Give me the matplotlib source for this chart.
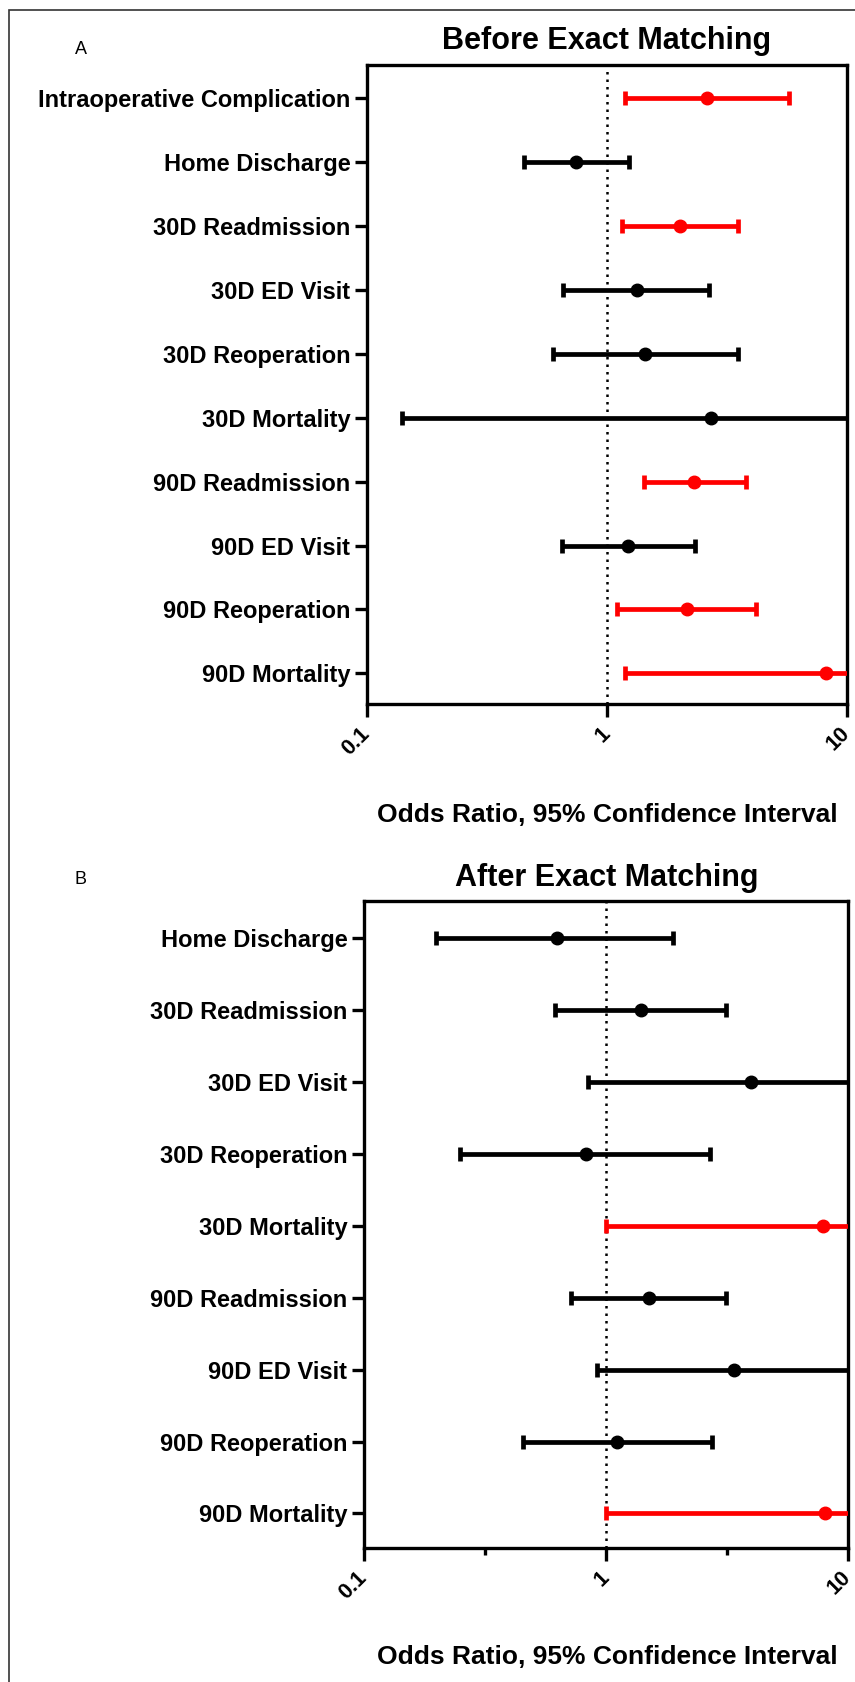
import matplotlib
matplotlib.use('Agg')
import matplotlib.pyplot as plt
from matplotlib.patches import Rectangle
from matplotlib.ticker import FixedLocator, NullFormatter

plt.rcParams['font.family'] = ['Liberation Sans', 'DejaVu Sans']

# Panel A: before exact matching
labels_a = ['Intraoperative Complication', 'Home Discharge', '30D Readmission',
            '30D ED Visit', '30D Reoperation', '30D Mortality', '90D Readmission',
            '90D ED Visit', '90D Reoperation', '90D Mortality']
or_a = [2.62, 0.745, 2.01, 1.33, 1.44, 2.71, 2.31, 1.22, 2.15, 8.2]
lo_a = [1.19, 0.449, 1.15, 0.657, 0.598, 0.140, 1.42, 0.647, 1.10, 1.19]
hi_a = [5.72, 1.24, 3.51, 2.67, 3.52, 52.0, 3.81, 2.32, 4.19, 56.0]
sig_a = [True, False, True, False, False, False, True, False, True, True]

# Panel B: after exact matching
labels_b = ['Home Discharge', '30D Readmission', '30D ED Visit', '30D Reoperation',
            '30D Mortality', '90D Readmission', '90D ED Visit', '90D Reoperation',
            '90D Mortality']
or_b = [0.628, 1.40, 3.98, 0.826, 7.92, 1.51, 3.37, 1.11, 8.04]
lo_b = [0.198, 0.618, 0.843, 0.249, 1.0, 0.72, 0.92, 0.452, 1.0]
hi_b = [1.90, 3.12, 18.8, 2.70, 62.0, 3.13, 12.3, 2.73, 64.0]
sig_b = [False, False, False, False, True, False, False, False, True]

W, H = 855, 1682
fig = plt.figure(figsize=(W / 100, H / 100), dpi=100)

# outer frame (cut off at right and bottom)
fig.add_artist(Rectangle((9 / W, -0.1), 2, 1 - 10 / H + 0.1, transform=fig.transFigure,
                         fill=False, lw=1.2, ec='#333333'))


def forest(ax, labels, ors, los, his, sig, title, letter, minor, title_y, letter_xy, xlab_y):
    n = len(labels)
    ys = list(range(1, n + 1))
    for y, o, l, h, s in zip(ys, ors, los, his, sig):
        c = '#ff0000' if s else 'black'
        ax.errorbar([o], [y], xerr=[[o - l], [h - o]], fmt='o', color=c, ms=9,
                    elinewidth=3.4, capsize=5, capthick=3.4, zorder=3)
    ax.axvline(1, color='black', ls=(0, (1, 2)), lw=1.8, zorder=1)
    ax.set_xscale('log')
    ax.set_xlim(0.1, 10)
    ax.set_ylim(n + 0.48, 0.48)
    ax.set_yticks(ys)
    ax.set_yticklabels(labels, fontsize=17, fontweight='bold')
    ax.xaxis.set_major_locator(FixedLocator([0.1, 1, 10]))
    ax.set_xticklabels(['0.1', '1', '10'], fontsize=15.5, fontweight='bold',
                       rotation=45, ha='right', va='center', rotation_mode='anchor')
    if minor:
        ax.xaxis.set_minor_locator(FixedLocator([0.316, 3.16]))
    else:
        ax.xaxis.set_minor_locator(FixedLocator([]))
    ax.xaxis.set_minor_formatter(NullFormatter())
    ax.tick_params(axis='y', which='major', length=9, width=2.4, pad=3)
    ax.tick_params(axis='x', which='major', length=9, width=2.4, pad=10)
    ax.tick_params(axis='x', which='minor', length=5, width=2.4)
    for sp in ax.spines.values():
        sp.set_linewidth(2.4)
    fig.text(607 / W, 1 - title_y / H, title, ha='center', va='center',
             fontsize=22, fontweight='bold')
    fig.text(letter_xy[0] / W, 1 - letter_xy[1] / H, letter, ha='center', va='center',
             fontsize=13)
    fig.text(607 / W, 1 - xlab_y / H, 'Odds Ratio, 95% Confidence Interval',
             ha='center', va='center', fontsize=19, fontweight='bold')


ax_a = fig.add_axes([367 / W, 1 - 704 / H, 480 / W, 639 / H])
forest(ax_a, labels_a, or_a, lo_a, hi_a, sig_a, 'Before Exact Matching', 'A', False,
       41, (81, 50), 815)

ax_b = fig.add_axes([364 / W, 1 - 1548 / H, 484 / W, 647 / H])
forest(ax_b, labels_b, or_b, lo_b, hi_b, sig_b, 'After Exact Matching', 'B', True,
       878, (80, 880), 1657)

fig.savefig('out.png', dpi=100)
